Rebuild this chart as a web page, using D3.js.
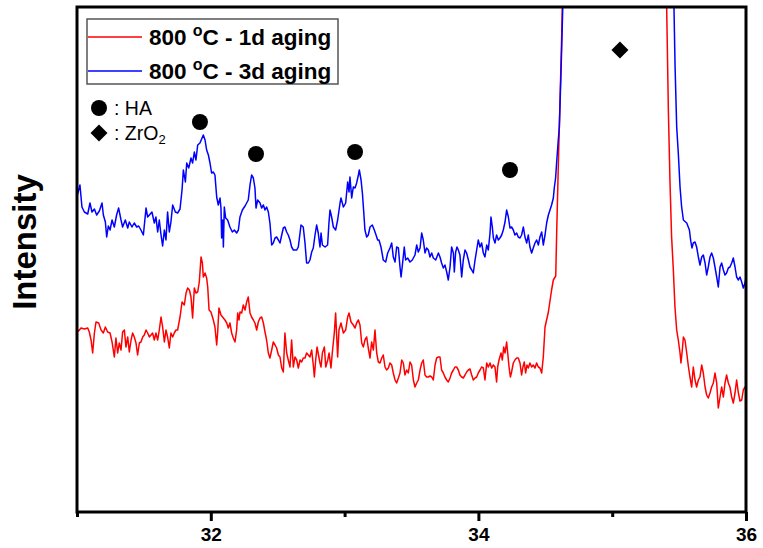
<!DOCTYPE html>
<html><head><meta charset="utf-8">
<script src="https://cdn.jsdelivr.net/npm/d3@7"></script>
<style>body{margin:0;background:#fff}svg{display:block}</style>
</head><body>
<svg id="chart" width="763" height="548"></svg>
<script>
// ---- data (2θ in degrees, intensity in arbitrary units) ----
const seriesNames = ["800 °C - 1d aging", "800 °C - 3d aging"];
const seriesColors = ["#ff0000", "#0000ff"];
const xTickLabels = [32, 34, 36];
const xMinorTicks = [31, 33, 35];

const aging1d = [[31.000,182],[31.012,181],[31.030,184],[31.055,183],[31.080,184],[31.092,180],[31.105,172],[31.117,159],[31.130,179],[31.142,190],[31.162,189],[31.180,182],[31.197,179],[31.212,185],[31.229,180],[31.247,179],[31.262,170],[31.279,155],[31.291,174],[31.304,159],[31.316,169],[31.329,162],[31.341,180],[31.354,182],[31.366,165],[31.379,175],[31.391,160],[31.404,172],[31.416,179],[31.428,175],[31.441,169],[31.453,157],[31.466,169],[31.478,170],[31.491,175],[31.503,177],[31.516,182],[31.528,179],[31.541,175],[31.553,177],[31.565,179],[31.578,172],[31.590,179],[31.603,172],[31.615,182],[31.628,195],[31.640,185],[31.653,170],[31.665,182],[31.677,175],[31.690,164],[31.702,179],[31.715,175],[31.727,179],[31.740,182],[31.752,182],[31.770,195],[31.785,210],[31.802,207],[31.815,219],[31.827,224],[31.840,222],[31.852,215],[31.864,194],[31.877,224],[31.889,219],[31.902,220],[31.914,230],[31.927,255],[31.937,249],[31.944,235],[31.957,239],[31.969,234],[31.977,225],[31.987,202],[32.001,200],[32.019,192],[32.031,185],[32.044,167],[32.051,179],[32.061,204],[32.076,197],[32.094,194],[32.106,192],[32.119,189],[32.131,184],[32.143,189],[32.156,179],[32.168,174],[32.181,170],[32.193,182],[32.201,199],[32.211,192],[32.218,200],[32.231,199],[32.243,207],[32.256,202],[32.268,210],[32.280,215],[32.293,199],[32.305,195],[32.318,192],[32.330,189],[32.343,182],[32.355,190],[32.368,194],[32.380,195],[32.393,189],[32.405,180],[32.417,172],[32.430,159],[32.442,154],[32.455,162],[32.467,170],[32.480,167],[32.492,164],[32.505,157],[32.517,155],[32.530,144],[32.542,140],[32.554,179],[32.567,159],[32.579,152],[32.592,145],[32.604,172],[32.617,145],[32.629,155],[32.642,152],[32.654,144],[32.667,152],[32.679,150],[32.691,154],[32.704,154],[32.716,159],[32.729,157],[32.741,155],[32.754,162],[32.766,147],[32.774,135],[32.784,152],[32.794,165],[32.816,149],[32.824,145],[32.834,159],[32.849,165],[32.859,145],[32.874,152],[32.884,159],[32.898,144],[32.908,159],[32.923,179],[32.933,199],[32.948,155],[32.958,182],[32.973,189],[32.991,179],[33.008,182],[33.023,195],[33.033,199],[33.048,190],[33.065,187],[33.078,184],[33.090,189],[33.103,192],[33.115,187],[33.128,169],[33.140,165],[33.152,172],[33.165,175],[33.177,164],[33.190,154],[33.202,170],[33.215,162],[33.227,182],[33.240,159],[33.252,150],[33.265,149],[33.277,154],[33.289,157],[33.302,145],[33.314,142],[33.327,144],[33.339,149],[33.352,147],[33.364,139],[33.377,132],[33.389,129],[33.402,134],[33.414,139],[33.427,152],[33.439,149],[33.451,137],[33.464,142],[33.476,139],[33.489,150],[33.501,147],[33.514,132],[33.526,125],[33.539,129],[33.551,132],[33.564,142],[33.576,149],[33.588,152],[33.601,137],[33.613,135],[33.626,135],[33.638,136],[33.651,135],[33.663,132],[33.676,147],[33.688,154],[33.701,155],[33.713,155],[33.725,142],[33.738,139],[33.750,135],[33.763,132],[33.775,130],[33.788,134],[33.800,139],[33.813,142],[33.825,145],[33.837,145],[33.850,142],[33.862,137],[33.875,135],[33.887,134],[33.900,137],[33.912,140],[33.925,142],[33.937,143],[33.950,137],[33.962,132],[33.975,134],[33.987,135],[33.999,139],[34.012,142],[34.024,145],[34.037,144],[34.049,132],[34.062,149],[34.074,145],[34.087,149],[34.099,144],[34.112,147],[34.124,145],[34.136,130],[34.144,145],[34.154,152],[34.169,159],[34.179,152],[34.189,165],[34.199,159],[34.211,170],[34.219,159],[34.229,145],[34.239,135],[34.248,140],[34.261,149],[34.273,152],[34.286,154],[34.298,154],[34.311,149],[34.323,137],[34.333,145],[34.343,150],[34.353,139],[34.363,147],[34.373,144],[34.385,149],[34.398,145],[34.410,147],[34.423,144],[34.435,149],[34.448,145],[34.460,144],[34.473,139],[34.485,155],[34.498,185],[34.523,200],[34.547,222],[34.560,232],[34.578,236],[34.585,279],[34.597,345],[34.610,412],[34.620,462],[34.627,505],[34.650,750],[34.750,1400],[34.900,1900],[35.050,2000],[35.200,1700],[35.350,1000],[35.395,650],[35.407,505],[35.420,400],[35.432,330],[35.444,275],[35.457,242],[35.469,205],[35.482,182],[35.494,172],[35.507,159],[35.514,149],[35.524,162],[35.532,175],[35.544,172],[35.557,159],[35.569,146],[35.581,135],[35.594,125],[35.606,145],[35.619,132],[35.631,125],[35.644,132],[35.656,135],[35.669,147],[35.681,139],[35.694,125],[35.706,117],[35.718,114],[35.731,119],[35.743,125],[35.756,129],[35.768,139],[35.781,129],[35.793,104],[35.806,115],[35.818,125],[35.831,115],[35.843,129],[35.855,137],[35.868,129],[35.880,125],[35.893,115],[35.905,109],[35.918,119],[35.930,132],[35.943,119],[35.955,111],[35.968,112],[35.980,122],[35.993,125],[36.000,125]];

const aging3d = [[31.005,318],[31.022,327],[31.037,305],[31.055,300],[31.080,298],[31.097,309],[31.112,300],[31.130,303],[31.147,297],[31.167,301],[31.187,309],[31.197,297],[31.212,290],[31.222,275],[31.234,286],[31.247,282],[31.262,292],[31.279,285],[31.296,297],[31.311,304],[31.329,292],[31.341,285],[31.361,292],[31.379,284],[31.391,290],[31.411,285],[31.428,289],[31.446,285],[31.461,286],[31.478,282],[31.496,277],[31.516,304],[31.528,295],[31.541,297],[31.560,300],[31.578,289],[31.590,295],[31.603,280],[31.615,292],[31.628,277],[31.640,266],[31.653,282],[31.665,272],[31.677,300],[31.690,280],[31.702,290],[31.715,307],[31.735,300],[31.752,299],[31.770,303],[31.785,322],[31.795,342],[31.810,330],[31.820,349],[31.835,344],[31.852,354],[31.864,349],[31.877,360],[31.889,352],[31.902,367],[31.919,369],[31.944,377],[31.957,372],[31.969,362],[31.982,357],[31.994,349],[32.006,339],[32.019,340],[32.031,337],[32.044,315],[32.056,307],[32.069,314],[32.076,304],[32.081,274],[32.089,292],[32.094,265],[32.101,305],[32.111,294],[32.126,292],[32.143,285],[32.161,280],[32.176,282],[32.193,279],[32.206,282],[32.218,295],[32.236,302],[32.256,306],[32.280,312],[32.293,327],[32.305,337],[32.318,334],[32.330,324],[32.338,304],[32.350,312],[32.368,309],[32.380,304],[32.393,307],[32.405,302],[32.417,305],[32.430,300],[32.442,289],[32.455,267],[32.467,269],[32.480,274],[32.492,275],[32.505,272],[32.517,269],[32.530,277],[32.542,284],[32.554,285],[32.567,280],[32.579,277],[32.592,272],[32.604,265],[32.617,262],[32.642,262],[32.654,265],[32.667,279],[32.674,287],[32.691,285],[32.704,269],[32.716,249],[32.729,249],[32.741,252],[32.754,260],[32.766,264],[32.779,277],[32.791,287],[32.803,279],[32.816,265],[32.824,279],[32.834,267],[32.854,265],[32.873,267],[32.883,289],[32.891,302],[32.903,295],[32.916,285],[32.933,282],[32.948,292],[32.966,309],[32.973,314],[32.991,305],[33.008,309],[33.023,330],[33.033,320],[33.040,335],[33.053,314],[33.065,325],[33.078,324],[33.090,329],[33.103,337],[33.110,342],[33.123,332],[33.133,319],[33.142,302],[33.152,282],[33.165,275],[33.177,277],[33.190,285],[33.207,287],[33.222,282],[33.235,277],[33.247,272],[33.257,272],[33.272,265],[33.289,252],[33.307,250],[33.322,259],[33.339,264],[33.352,269],[33.364,255],[33.377,250],[33.389,265],[33.402,264],[33.414,245],[33.422,235],[33.432,247],[33.446,265],[33.456,252],[33.471,254],[33.489,250],[33.506,252],[33.526,257],[33.539,267],[33.551,260],[33.564,264],[33.576,279],[33.588,272],[33.601,259],[33.613,264],[33.626,262],[33.638,255],[33.651,259],[33.663,254],[33.681,252],[33.701,259],[33.713,255],[33.725,249],[33.738,244],[33.750,247],[33.763,240],[33.775,232],[33.788,245],[33.800,265],[33.813,259],[33.820,240],[33.830,260],[33.840,265],[33.850,262],[33.862,257],[33.875,235],[33.887,252],[33.900,262],[33.912,259],[33.925,252],[33.937,245],[33.950,242],[33.962,239],[33.975,252],[33.987,262],[33.999,272],[34.012,265],[34.024,269],[34.037,259],[34.049,255],[34.062,267],[34.074,262],[34.087,279],[34.094,295],[34.104,285],[34.112,274],[34.124,269],[34.136,277],[34.149,272],[34.161,274],[34.174,277],[34.186,282],[34.199,290],[34.211,302],[34.224,295],[34.236,284],[34.248,285],[34.261,282],[34.273,277],[34.286,279],[34.298,275],[34.311,274],[34.323,277],[34.336,285],[34.348,275],[34.361,269],[34.373,277],[34.385,265],[34.398,259],[34.410,264],[34.423,269],[34.435,272],[34.448,267],[34.460,275],[34.473,280],[34.485,267],[34.498,277],[34.510,289],[34.523,297],[34.535,302],[34.547,307],[34.560,314],[34.567,324],[34.577,334],[34.585,350],[34.597,372],[34.605,385],[34.615,429],[34.622,462],[34.630,502],[34.660,800],[34.750,1400],[34.900,1800],[35.050,2000],[35.200,1800],[35.350,1200],[35.440,700],[35.462,502],[35.470,445],[35.482,385],[35.494,359],[35.507,325],[35.519,305],[35.532,292],[35.557,289],[35.577,282],[35.586,272],[35.596,264],[35.606,269],[35.619,270],[35.631,265],[35.644,255],[35.656,247],[35.669,255],[35.681,257],[35.694,249],[35.706,237],[35.718,245],[35.731,255],[35.743,259],[35.756,254],[35.768,245],[35.781,235],[35.793,225],[35.806,245],[35.818,249],[35.831,242],[35.843,237],[35.855,239],[35.868,244],[35.880,245],[35.893,249],[35.905,254],[35.918,245],[35.930,235],[35.943,232],[35.955,235],[35.968,230],[35.980,224],[35.993,229],[36.000,235]];

// phase markers: [2θ, intensity]
const haMarkers = [[31.919,390],[32.338,358],[33.078,360],[34.236,342]];
const zro2Markers = [[35.058,462]];

// ---- layout ----
const margin = {left: 77, top: 7, right: 17, bottom: 36};
const W = 763, H = 548;
const svg = d3.select("#chart");
const x = d3.scaleLinear().domain([31, 36]).range([margin.left, W - margin.right]);
const y = d3.scaleLinear().domain([0, 505]).range([H - margin.bottom, margin.top]);
const font = "Arial, 'Liberation Sans', sans-serif";

svg.append("defs").append("clipPath").attr("id", "clip")
  .append("rect").attr("x", x(31)).attr("y", y(505))
  .attr("width", x(36) - x(31)).attr("height", y(0) - y(505));

const line = d3.line().x(d => x(d[0])).y(d => y(d[1]));
const plot = svg.append("g").attr("clip-path", "url(#clip)");
[aging1d, aging3d].forEach((s, i) => {
  plot.append("path").datum(s).attr("d", line)
    .attr("fill", "none").attr("stroke", seriesColors[i])
    .attr("stroke-width", 1.5).attr("stroke-linejoin", "round");
});

// diamond path (half-diagonal r)
const diamond = r => `M0,${-r}L${r},0L0,${r}L${-r},0Z`;

// markers
svg.selectAll("circle.ha").data(haMarkers).join("circle").attr("class", "ha")
  .attr("cx", d => x(d[0])).attr("cy", d => y(d[1])).attr("r", 8).attr("fill", "#000");
svg.selectAll("path.zr").data(zro2Markers).join("path").attr("class", "zr")
  .attr("d", diamond(8.5))
  .attr("transform", d => `translate(${x(d[0])},${y(d[1])})`)
  .attr("fill", "#000");

// frame
svg.append("rect").attr("x", x(31)).attr("y", y(505))
  .attr("width", x(36) - x(31)).attr("height", y(0) - y(505))
  .attr("fill", "none").attr("stroke", "#000").attr("stroke-width", 3);

// x axis
const xAxis = svg.append("g").attr("transform", `translate(0,${y(0)})`)
  .call(d3.axisBottom(x).tickValues(xTickLabels).tickSize(9).tickFormat(d3.format("d")));
xAxis.select(".domain").remove();
xAxis.selectAll(".tick line").attr("stroke", "#000").attr("stroke-width", 3);
xAxis.selectAll(".tick text").attr("font-family", font).attr("font-weight", "bold")
  .attr("font-size", 19).attr("fill", "#000").attr("dy", "0.9em");
const xMinor = svg.append("g").attr("transform", `translate(0,${y(0)})`)
  .call(d3.axisBottom(x).tickValues(xMinorTicks).tickSize(5).tickFormat(""));
xMinor.select(".domain").remove();
xMinor.selectAll(".tick line").attr("stroke", "#000").attr("stroke-width", 3);

// y label
svg.append("text").attr("transform", `translate(36,242) rotate(-90)`)
  .attr("text-anchor", "middle").attr("font-family", font).attr("font-weight", "bold")
  .attr("font-size", 33).text("Intensity");

// legend
const lg = svg.append("g");
lg.append("rect").attr("x", 87).attr("y", 19).attr("width", 251).attr("height", 65)
  .attr("fill", "#fff").attr("stroke", "#555").attr("stroke-width", 1.5);
const legendRows = [37, 71];
seriesNames.forEach((name, i) => {
  lg.append("line").attr("x1", 88).attr("x2", 142).attr("y1", legendRows[i]).attr("y2", legendRows[i])
    .attr("stroke", seriesColors[i]).attr("stroke-width", 1.5);
  const parts = name.split("°");
  const t = lg.append("text").attr("x", 149).attr("y", legendRows[i] + 7.5)
    .attr("font-family", font).attr("font-weight", "bold").attr("font-size", 22.5).attr("fill", "#000");
  t.append("tspan").text(parts[0]);
  t.append("tspan").attr("font-size", 16).attr("dy", -9).text("o");
  t.append("tspan").attr("dy", 9).text(parts[1]);
});

// phase key
const key = svg.append("g").attr("font-family", font).attr("font-size", 19.5).attr("fill", "#000");
key.append("circle").attr("cx", 99).attr("cy", 108).attr("r", 8).attr("fill", "#000");
key.append("text").attr("x", 114).attr("y", 115).text(": HA");
key.append("path").attr("d", diamond(8.5))
  .attr("transform", "translate(99,133)").attr("fill", "#000");
const zt = key.append("text").attr("x", 114).attr("y", 139.5);
zt.append("tspan").text(": ZrO");
zt.append("tspan").attr("font-size", 13).attr("dy", 4).text("2");
</script>
</body></html>
